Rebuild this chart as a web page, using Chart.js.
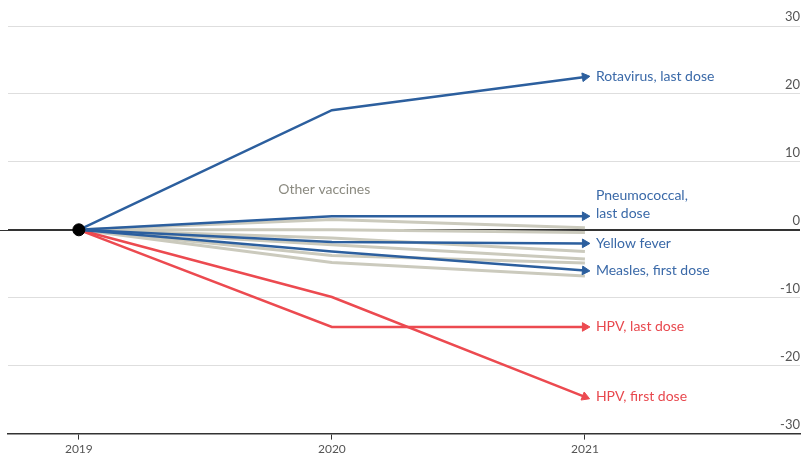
<!DOCTYPE html>
<html>
<head>
<meta charset="utf-8">
<script src="https://cdn.jsdelivr.net/npm/chart.js@4/dist/chart.umd.min.js"></script>
<style>
  html, body { margin: 0; padding: 0; background: #fff; }
  #wrap { width: 807px; height: 460px; }
</style>
</head>
<body>
<div id="wrap"><canvas id="vaxChart"></canvas></div>
<script>
// years on the x axis and the y tick values
var years = [2019, 2020, 2021];
var yTicks = [-30, -20, -10, 0, 10, 20, 30];

// highlighted vaccines, change vs 2019
var rotavirus = [0, 17.6, 22.5];
var pneumococcal = [0, 2.0, 2.0];
var yellowFever = [0, -1.8, -2.0];
var measles = [0, -3.2, -6.0];
var hpvLast = [0, -14.3, -14.3];
var hpvFirst = [0, -9.9, -24.6];

// the grey "other vaccines" bundle
var otherA = [0, 1.5, 0.3];
var otherB = [0, 0.0, -0.4];
var otherC = [0, -1.2, -3.2];
var otherD = [0, -2.2, -4.3];
var otherE = [0, -3.8, -4.9];
var otherF = [0, -4.8, -6.8];

var seriesNames = ['Rotavirus, last dose', ['Pneumococcal,', 'last dose'], 'Yellow fever',
                   'Measles, first dose', 'HPV, last dose', 'HPV, first dose'];
var otherLabel = 'Other vaccines';

var BLUE = '#2c5f9e';
var BLUE_TEXT = '#3a69a8';
var RED = '#ec4a50';
var RED_TEXT = '#e8484e';
var GREY = '#cbcabd';
var FONT = 'Lato, "Open Sans", sans-serif';

function toPoints(vals)
{
    return years.map(function (yr, i) { return { x: yr, y: vals[i] }; });
}

function arrowRotation(ctx)
{
    var i = ctx.dataIndex;
    if (i < 1) return 0;
    var chart = ctx.chart;
    var d = chart.data.datasets[ctx.datasetIndex].data;
    var xs = chart.scales.x, ys = chart.scales.y;
    var dx = xs.getPixelForValue(d[i].x) - xs.getPixelForValue(d[i - 1].x);
    var dy = ys.getPixelForValue(d[i].y) - ys.getPixelForValue(d[i - 1].y);
    return Math.atan2(dy, dx) * 180 / Math.PI + 90;
}

function arrowLine(name, vals, color, textColor, nameDy)
{
    return {
        label: name,
        data: toPoints(vals),
        borderColor: color,
        backgroundColor: color,
        borderWidth: 2.5,
        pointStyle: 'triangle',
        pointRadius: function (ctx) { return ctx.dataIndex === years.length - 1 ? 5 : 0; },
        pointRotation: arrowRotation,
        pointBorderWidth: 1,
        tension: 0,
        endLabel: { text: name, color: textColor, dy: nameDy || 0 }
    };
}

function greyLine(vals)
{
    return {
        label: 'other',
        data: toPoints(vals),
        borderColor: GREY,
        borderWidth: 3,
        pointRadius: 0,
        tension: 0
    };
}

var endLabels = {
    id: 'endLabels',
    afterDatasetsDraw: function (chart)
    {
        var c = chart.ctx;
        c.save();
        c.font = '14px ' + FONT;
        c.textAlign = 'left';
        c.textBaseline = 'middle';
        chart.data.datasets.forEach(function (ds, di) {
            if (!ds.endLabel) return;
            var meta = chart.getDatasetMeta(di);
            var pt = meta.data[meta.data.length - 1];
            var lines = [].concat(ds.endLabel.text);
            c.fillStyle = ds.endLabel.color;
            lines.forEach(function (t, k) {
                var y = pt.y + ds.endLabel.dy - (lines.length - 1 - k) * 18;
                c.fillText(t, pt.x + 11, y);
            });
        });
        // "Other vaccines" note above the grey bundle
        c.fillStyle = '#8b8a80';
        c.textAlign = 'center';
        c.fillText(otherLabel, chart.scales.x.getPixelForValue(2019.97), chart.scales.y.getPixelForValue(5.9));
        c.restore();
    }
};

var zeroLine = {
    id: 'zeroLine',
    beforeDatasetsDraw: function (chart)
    {
        var c = chart.ctx;
        var y = Math.round(chart.scales.y.getPixelForValue(0)) + 0.5;
        c.save();
        c.strokeStyle = '#333';
        c.lineWidth = 1.2;
        c.beginPath();
        c.moveTo(0, y);
        c.lineTo(chart.chartArea.right, y);
        c.stroke();
        c.restore();
    }
};

var datasets = [
    {
        label: 'origin',
        data: [{ x: years[0], y: 0 }],
        backgroundColor: '#000',
        borderColor: '#000',
        pointRadius: 6,
        showLine: false
    },
    arrowLine(seriesNames[0], rotavirus, BLUE, BLUE_TEXT),
    arrowLine(seriesNames[1], pneumococcal, BLUE, BLUE_TEXT, -3),
    arrowLine(seriesNames[2], yellowFever, BLUE, BLUE_TEXT),
    arrowLine(seriesNames[3], measles, BLUE, BLUE_TEXT),
    arrowLine(seriesNames[4], hpvLast, RED, RED_TEXT),
    arrowLine(seriesNames[5], hpvFirst, RED, RED_TEXT),
    greyLine(otherA),
    greyLine(otherB),
    greyLine(otherC),
    greyLine(otherD),
    greyLine(otherE),
    greyLine(otherF)
];

var ctx = document.getElementById('vaxChart').getContext('2d');

var myChart = new Chart(ctx, {
    type: 'line',
    data: { datasets: datasets },
    plugins: [zeroLine, endLabels],
    options: {
        responsive: true,
        maintainAspectRatio: false,
        animation: false,
        layout: { padding: { left: 8, right: 0, top: 26, bottom: 2 } },
        plugins: {
            legend: { display: false },
            tooltip: { enabled: false }
        },
        scales: {
            x: {
                type: 'linear',
                min: 2018.72,
                max: 2021.85,
                afterBuildTicks: function (s) { s.ticks = years.map(function (v) { return { value: v }; }); },
                grid: { drawOnChartArea: false, drawTicks: true, tickLength: 6, color: '#333' },
                border: { color: '#333', width: 1.5 },
                ticks: {
                    callback: function (v) { return String(v); },
                    color: '#555',
                    padding: 2,
                    maxRotation: 0,
                    font: { family: FONT, size: 12 }
                }
            },
            y: {
                position: 'right',
                min: -30,
                max: 30,
                afterBuildTicks: function (s) { s.ticks = yTicks.map(function (v) { return { value: v }; }); },
                grid: {
                    drawTicks: false,
                    color: function (c) { return c.tick && c.tick.value === 0 ? '#333' : '#dedede'; }
                },
                border: { display: false },
                ticks: {
                    mirror: true,
                    labelOffset: -9,
                    padding: 0,
                    color: '#555',
                    font: { family: FONT, size: 13 }
                }
            }
        }
    }
});
</script>
</body>
</html>
